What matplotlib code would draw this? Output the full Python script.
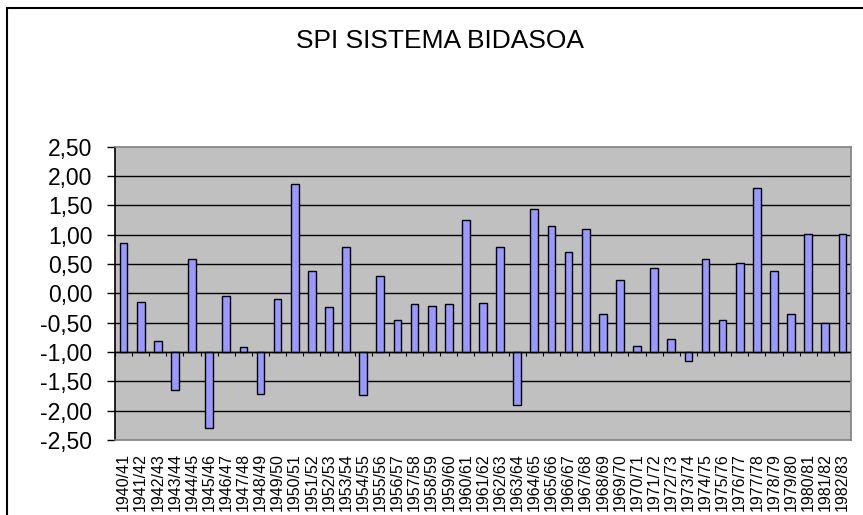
import numpy as np
import matplotlib
matplotlib.use("Agg")
import matplotlib.pyplot as plt
from matplotlib.patches import Rectangle
from matplotlib.ticker import FuncFormatter

plt.rcParams['font.family'] = ['Liberation Sans', 'DejaVu Sans']

# hydrological years 1940/41 .. 1982/83
years = [f"{y}/{str(y + 1)[-2:]}" for y in range(1940, 1983)]

# SPI values
spi = [0.85, -0.14, -0.82, -1.64, 0.59, -2.29, -0.05, -0.91, -1.72, -0.10,
       1.86, 0.38, -0.23, 0.79, -1.74, 0.29, -0.46, -0.18, -0.21, -0.18,
       1.25, -0.16, 0.79, -1.91, 1.43, 1.15, 0.70, 1.09, -0.36, 0.22,
       -0.89, 0.43, -0.78, -1.15, 0.59, -0.45, 0.52, 1.79, 0.38, -0.36,
       1.02, -0.50, 1.02]

y_ticks = np.arange(-2.5, 2.51, 0.5)
baseline = -1.0  # category axis crosses here, like in the Excel original

fig = plt.figure(figsize=(8.63, 5.15), dpi=100)
ax = fig.add_axes([115 / 863, 75 / 515, 736 / 863, 293.3 / 515])
ax.set_facecolor("#C0C0C0")

x = np.arange(len(years))
vals = np.array(spi)
ax.bar(x, vals - baseline, bottom=baseline, width=0.45, color="#9999FF",
       edgecolor="black", linewidth=1.0, zorder=3)

# gridlines + horizontal axis at -1
for v in y_ticks[1:-1]:
    ax.axhline(v, color="black", lw=1.0, zorder=1)
ax.axhline(baseline, color="black", lw=1.0, zorder=4)
ax.vlines(np.arange(len(years) + 1) - 0.5, baseline - 0.07, baseline,
          color="black", lw=0.8, zorder=4)

ax.set_xlim(-0.5, len(years) - 0.5)
ax.set_ylim(-2.5, 2.5)
ax.set_yticks(y_ticks)
ax.yaxis.set_major_formatter(FuncFormatter(lambda v, p: f"{v:.2f}".replace(".", ",")))
ax.tick_params(axis="y", direction="out", length=5.8, width=1, labelsize=16.5, pad=10.5)

ax.set_xticks(x)
ax.set_xticklabels(years, rotation=90, fontsize=11.5)
ax.tick_params(axis="x", length=0, pad=9.4)

for side in ["top", "right", "bottom"]:
    ax.spines[side].set_color("#808080")
    ax.spines[side].set_linewidth(1.2)
ax.spines["left"].set_color("black")
ax.spines["left"].set_linewidth(1.2)

fig.text(440 / 863, 1 - 41 / 515, "SPI SISTEMA BIDASOA", fontsize=19,
         ha="center", va="center")

# outer chart frame (cut off at right and bottom in the original)
fig.patches.append(Rectangle((6.5 / 863, -0.1), 1.2, 1.1 - 8 / 515,
                             transform=fig.transFigure, fill=False,
                             edgecolor="black", lw=1.5))

fig.savefig("out.png", dpi=100)
